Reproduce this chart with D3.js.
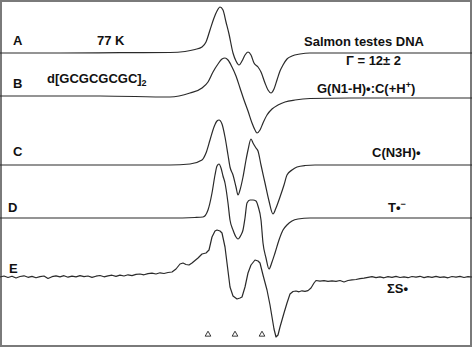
<!DOCTYPE html>
<html><head><meta charset="utf-8">
<script src="https://cdn.jsdelivr.net/npm/d3@7/dist/d3.min.js"></script>
<style>body{margin:0;background:#fff}svg{display:block}text{font-family:"Liberation Sans",Arial,sans-serif;font-weight:bold;fill:#111}</style>
</head><body><svg id="c" width="472" height="347"></svg>
<script>
// spectrum ids
const spectra = ["A","B","C","D","E"];
// baseline offsets of the stacked spectra (display units)
const offsets = [294, 251, 182, 129, 70];
// field (arb. units) and derivative amplitudes
const specA = [[0,0],[60,0],[120,0.3],[170,0.5],[185,1.5],[195,3.5],[202,6],[206,11],[210,23],[214,35],[217,42],[220,46],[223,43],[226,31],[229,19],[233,0],[236,-8],[239,-12],[242,-8],[245,-2],[248,1],[251,-2],[254,-10],[258,-14],[261,-19],[265,-30],[268,-37],[271,-40],[274,-36],[277,-27],[280,-18],[283,-12],[287,-6],[292,-3],[300,-1],[310,0],[472,0]];
const specB = [[0,0],[100,0],[170,-1],[190,3],[202,8],[208,14],[213,24],[218,32],[222,37],[225,38],[228,36],[232,29],[236,20],[240,8],[244,-4],[248,-15],[252,-27],[255,-34],[257,-37],[260,-34],[263,-27],[267,-19],[272,-13],[278,-9],[285,-6],[295,-4],[310,-2.5],[350,-2],[472,-2]];
const specC = [[0,0],[100,0],[170,0],[190,1],[202,5],[206,12],[210,25],[214,38],[217,44],[219,45],[222,41],[225,28],[228,10],[230,-2],[233,-10],[236,-22],[238,-30],[240,-25],[243,-12],[246,5],[248,15],[251,26],[253,22],[256,17],[258,14],[261,0],[265,-18],[269,-36],[273,-49],[276,-43],[280,-32],[284,-20],[287,-10],[292,-5],[297,-2],[305,-0.5],[315,0],[472,0]];
const specD = [[0,0],[100,0],[170,0],[195,0.5],[203,1],[208,8],[212,25],[215,43],[217,52],[219,54],[221,50],[223,42],[225,35],[228,15],[230,-2],[233,-12],[236,-19],[238,-21],[241,-17],[243,-12],[245,0],[247,15],[250,18],[253,18],[256,17],[258,12],[261,-2],[263,-25],[266,-40],[269,-51],[272,-44],[275,-35],[279,-22],[283,-12],[287,-7],[292,-3],[298,-1],[310,0],[472,0]];
const specE = [[0,0],[4,1],[8,-0.5],[12,0.8],[16,-1],[20,0.5],[24,1.2],[28,-0.3],[32,0.6],[36,-0.8],[40,0.4],[44,1],[48,-1.5],[52,0.3],[56,1.1],[60,0.2],[64,1.3],[68,-0.2],[72,0.9],[76,0.1],[80,1.4],[84,0.3],[88,1],[92,-0.4],[96,0.8],[100,1.5],[104,0.2],[108,1.2],[112,1.8],[116,0.6],[120,1.9],[124,1],[128,2.2],[132,1.4],[136,2.6],[140,3],[144,2.2],[148,3.4],[152,3.8],[156,3],[160,4.2],[164,3.5],[168,4.5],[172,5],[176,8],[180,13],[183,14],[186,12.5],[189,12],[192,14],[195,16.5],[198,19],[202,23],[206,24],[209,27],[212,40],[215,46],[217,47],[220,46],[222,44],[225,30],[227,14],[230,-10],[233,-19],[237,-22],[240,-21],[242,-20],[245,-10],[248,4],[251,12],[255,17],[258,16],[260,14],[263,2],[267,-13],[270,-28],[272,-40],[274,-52],[276,-60],[278,-58],[280,-50],[284,-36],[287,-26],[290,-17],[293,-14.5],[296,-14],[299,-14.8],[302,-13.8],[305,-14.4],[308,-13.6],[311,-11],[314,-6],[316,-3.5],[320,-4.2],[324,-3.6],[328,-4.4],[332,-3.8],[336,-4.3],[340,-3.5],[344,-5],[348,-3.5],[352,-2.8],[356,-2.5],[360,-1.6],[364,-1.2],[368,-0.4],[372,0.3],[376,-0.6],[380,0.2],[384,-0.8],[388,0.4],[392,-0.3],[396,0.6],[400,-0.5],[404,0.2],[408,-0.7],[412,0.5],[416,-0.2],[420,0.7],[424,-0.6],[428,0.3],[432,-0.4],[436,0.6],[440,-0.3],[444,0.2],[448,-0.8],[452,0.5],[456,-0.1],[460,0.6],[464,-0.5],[468,0.3],[472,0]];
const seriesData = [specA, specB, specC, specD, specE];
// marker field positions (triangles)
const markers = [208, 235, 262];

const svg = d3.select("#c");
const W = 472, H = 347;
const x = d3.scaleLinear().domain([0, 472]).range([0, 472]);
const y = d3.scaleLinear().domain([0, 347]).range([347, 0]);

svg.append("rect").attr("x",1).attr("y",1).attr("width",W-2).attr("height",H-2)
  .attr("fill","#fff").attr("stroke","#7a7a7a").attr("stroke-width",2);

seriesData.forEach((s, i) => {
  const off = offsets[i];
  const line = d3.line().x(d => x(d[0])).y(d => y(off + d[1]))
    .curve(i === 4 ? d3.curveLinear : d3.curveMonotoneX);
  svg.append("path").datum(s).attr("d", line)
    .attr("fill","none").attr("stroke","#2a2a2a").attr("stroke-width",1.2)
    .attr("stroke-linejoin","round");
});

// triangles
const tri = d3.symbol().type(d3.symbolTriangle).size(14);
svg.selectAll(".tri").data(markers).enter().append("path")
  .attr("d", tri).attr("transform", d => `translate(${x(d)},334.5)`)
  .attr("fill","none").attr("stroke","#222").attr("stroke-width",0.9);

// labels
const letterPos = [[13,45],[13,88],[13,156],[8,212],[9,273]];
spectra.forEach((l,i)=>{
  svg.append("text").attr("x",letterPos[i][0]).attr("y",letterPos[i][1]).attr("font-size",13).text(l);
});
function t(xp, yp, parts){
  const el = svg.append("text").attr("x",xp).attr("y",yp).attr("font-size",13);
  parts.forEach(p=>{
    const ts = el.append("tspan").text(p.t);
    if(p.sub){ ts.attr("font-size",9).attr("dy",3); }
    if(p.sup){ ts.attr("font-size",9).attr("dy",-5); }
    if(p.back){ ts.attr("dy",p.back); }
  });
  return el;
}
t(97,45,[{t:"77 K"}]);
t(304,46,[{t:"Salmon testes DNA"}]);
t(346,65,[{t:"Γ = 12± 2"}]);
t(47,83,[{t:"d[GCGCGCGC]"},{t:"2",sub:true}]);
t(317,93,[{t:"G(N1-H)•:C(+H"},{t:"+",sup:true},{t:")",back:5}]);
t(372,157,[{t:"C(N3H)•"}]);
t(388,212,[{t:"T•"},{t:"−",sup:true}]);
t(387,293,[{t:"ΣS•"}]);
</script></body></html>
